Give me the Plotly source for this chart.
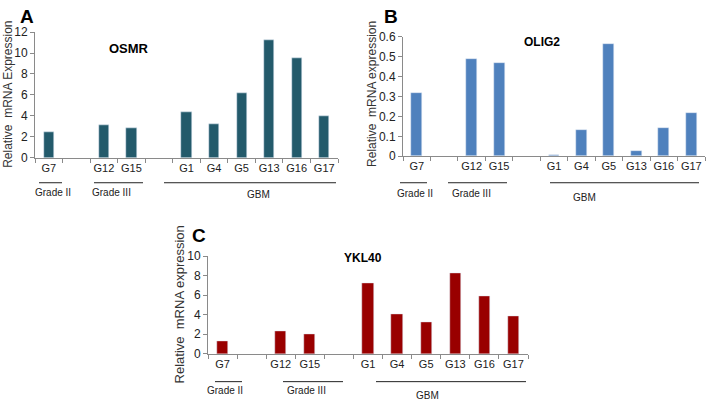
import plotly.graph_objects as go

W, H = 708, 407

categories = ["G7", "", "G12", "G15", "", "G1", "G4", "G5", "G13", "G16", "G17"]
osmr = [2.4, None, 3.1, 2.8, None, 4.4, 3.2, 6.2, 11.2, 9.55, 4.0]
olig2 = [0.32, None, 0.49, 0.47, None, 0.005, 0.13, 0.565, 0.025, 0.14, 0.22]
ykl40 = [1.3, None, 2.3, 2.05, None, 7.2, 4.1, 3.25, 8.3, 5.95, 3.85]
groups = ["Grade II", "Grade III", "GBM"]

def px(x):
    return x / W

def py(y):
    return 1 - y / H

pos = list(range(len(categories)))
gray = "#8a8a8a"
font = "Liberation Sans, Arial, sans-serif"

fig = go.Figure()
fig.add_trace(go.Bar(x=pos, y=osmr, marker_color="#235a6b", width=0.37, xaxis="x", yaxis="y"))
fig.add_trace(go.Bar(x=pos, y=olig2, marker_color="#4f81bd", width=0.4, xaxis="x2", yaxis="y2"))
fig.add_trace(go.Bar(x=pos, y=ykl40, marker_color="#990000", width=0.39, xaxis="x3", yaxis="y3"))

def xax(dom, anchor):
    return dict(domain=dom, anchor=anchor, range=[-0.5, len(categories) - 0.5],
                tickmode="array", tickvals=pos, ticktext=categories, ticks="",
                showline=True, linecolor=gray, linewidth=1, showgrid=False, zeroline=False,
                tickfont=dict(size=11, color="#222", family=font),
                minor=dict(tickmode="array", tickvals=[i - 0.5 for i in range(len(categories) + 1)],
                           ticks="outside", ticklen=4, tickcolor=gray, showgrid=False))

def yax(dom, anchor, rng, dt):
    return dict(domain=dom, anchor=anchor, range=rng, dtick=dt, ticks="outside", ticklen=4,
                tickcolor=gray, showline=True, linecolor=gray, linewidth=1, showgrid=False,
                zeroline=False, tickfont=dict(size=12, color="#222", family=font))

fig.update_layout(
    width=W, height=H, margin=dict(l=0, r=0, t=0, b=0),
    plot_bgcolor="white", paper_bgcolor="white", showlegend=False, bargap=0,
    font=dict(family=font, color="#222"),
    xaxis=xax([px(35), px(338)], "y"),
    yaxis=yax([py(156), py(26)], "x", [0, 12], 2),
    xaxis2=xax([px(403), px(705)], "y2"),
    yaxis2=yax([py(154.5), py(31)], "x2", [0, 0.6], 0.1),
    xaxis3=xax([px(208), px(528)], "y3"),
    yaxis3=yax([py(359), py(258)], "x3", [0, 10], 2),
)

ann = []
def text(x, y, s, size, bold=False, angle=0, color="#222"):
    ann.append(dict(x=px(x), y=py(y), xref="paper", yref="paper", text=f"<b>{s}</b>" if bold else s,
                    showarrow=False, textangle=angle, xanchor="center", yanchor="middle",
                    font=dict(size=size, color=color, family=font)))

text(27, 10, "A", 19, True, color="#000")
text(391, 10, "B", 19, True, color="#000")
text(199, 237, "C", 19, True, color="#000")
text(129, 43, "OSMR", 13, True, color="#000")
text(542, 36, "OLIG2", 12, True, color="#000")
text(363, 260, "YKL40", 12, True, color="#000")
text(8, 91, "Relative  mRNA Expression", 12, angle=-90, color="#333")
text(372, 90, "Relative  mRNA expression", 12, angle=-90, color="#333")
text(179, 308, "Relative  mRNA expression", 13, angle=-90, color="#333")

shapes = []
def line(x0, x1, y):
    shapes.append(dict(type="line", xref="paper", yref="paper", x0=px(x0), x1=px(x1),
                       y0=py(y), y1=py(y), line=dict(color="#222", width=1)))

# group brackets: (line x0, line x1, line y, label x, label y)
grpA = [(39, 62, 182, 53, 192), (94, 143, 182, 111, 192), (164, 336, 182, 258, 194)]
grpB = [(400, 427, 182, 415, 193), (448, 507, 182, 471, 193), (550, 699, 182, 584, 197)]
grpC = [(215, 242, 388, 225, 397), (283, 343, 388, 306, 397), (376, 526, 388, 427, 402)]
for grp in (grpA, grpB, grpC):
    for name, (a, b, ly, tx, ty) in zip(groups, grp):
        line(a, b, ly)
        text(tx, ty, name, 10, color="#222")

fig.update_layout(annotations=ann, shapes=shapes)
fig.write_html("out.html", config={"displayModeBar": False},
               post_script="document.body.style.margin='0';document.body.style.overflow='hidden';")
